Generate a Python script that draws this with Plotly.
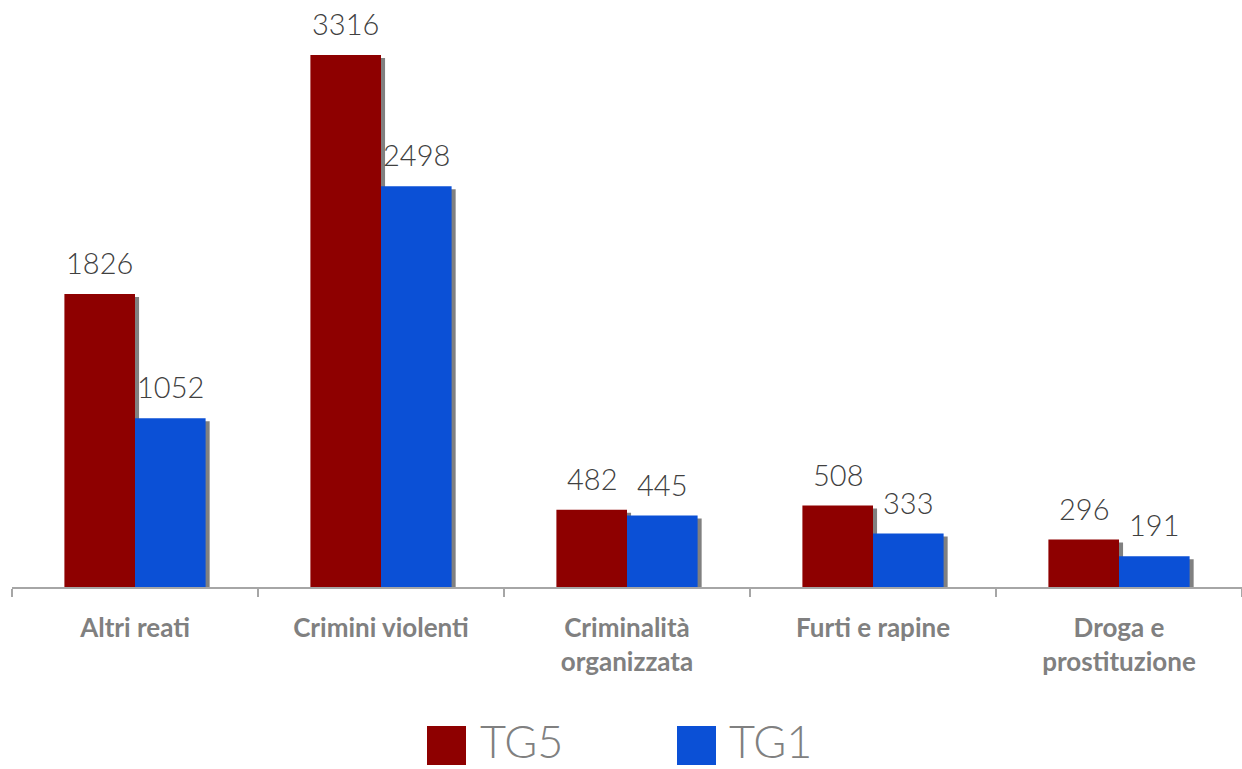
import plotly.graph_objects as go

categories = ["Altri reati", "Crimini violenti", "Criminalità<br>organizzata",
              "Furti e rapine", "Droga e<br>prostituzione"]
tg5 = [1826, 3316, 482, 508, 296]
tg1 = [1052, 2498, 445, 333, 191]
series_names = ["TG5", "TG1"]

RED = "#8E0000"
BLUE = "#0B50D6"
SHADOW = "#808080"
FONT = "Lato"

W = 0.287          # bar width in category units
DX = 0.0165        # shadow horizontal offset (category units)
DY = 18.7          # shadow vertical offset (data units)

xs = list(range(len(categories)))

fig = go.Figure()
# shadows
for vals, off in ((tg5, -W), (tg1, 0.0)):
    fig.add_trace(go.Bar(x=xs, y=vals, base=[-DY] * len(vals), offset=off + DX, width=W,
                         marker=dict(color=SHADOW, line=dict(width=0)),
                         showlegend=False, hoverinfo="skip"))
# main bars
fig.add_trace(go.Bar(x=xs, y=tg5, offset=-W, width=W, name=series_names[0],
                     marker=dict(color=RED, line=dict(width=0)), showlegend=False))
fig.add_trace(go.Bar(x=xs, y=tg1, offset=0.0, width=W, name=series_names[1],
                     marker=dict(color=BLUE, line=dict(width=0)), showlegend=False))

annotations = []
for i in xs:
    for vals, c in ((tg5, -W / 2), (tg1, W / 2)):
        annotations.append(dict(x=i + c, y=vals[i], xref="x", yref="y", text=str(vals[i]),
                                showarrow=False, yanchor="bottom", xanchor="center", yshift=12,
                                font=dict(family=FONT, size=29, color="#404040", weight=300)))

# legend (manual, large symbols)
shapes = []
leg = [(series_names[0], RED, 427, 466, 479), (series_names[1], BLUE, 677, 716, 728)]
def px2x(p):
    return (p - 12) / 1230
def py2y(p):
    return (587 - p) / 577
for name, col, sx0, sx1, tx in leg:
    shapes.append(dict(type="rect", xref="paper", yref="paper",
                       x0=px2x(sx0), x1=px2x(sx1), y0=py2y(765), y1=py2y(726),
                       fillcolor=col, line=dict(width=0)))
    annotations.append(dict(x=px2x(tx), y=py2y(768.5), xref="paper", yref="paper", text=name,
                            showarrow=False, xanchor="left", yanchor="bottom", borderpad=0,
                            font=dict(family=FONT, size=45, color="#808080", weight=300)))

fig.update_layout(
    width=1242, height=769,
    margin=dict(l=12, r=0, t=10, b=182),
    paper_bgcolor="white", plot_bgcolor="white",
    barmode="overlay",
    annotations=annotations, shapes=shapes,
    showlegend=False,
    xaxis=dict(tickmode="array", tickvals=xs, ticktext=categories,
               range=[-0.5, len(categories) - 0.5],
               showline=True, linecolor="#A6A6A6", linewidth=1.5,
               ticks="", ticklabelstandoff=17,
               showgrid=False, zeroline=False,
               tickfont=dict(family=FONT, size=26, color="#808080", weight="bold"),
               minor=dict(tickvals=[x - 0.5 for x in xs] + [len(xs) - 0.5],
                          ticks="outside", ticklen=8, tickcolor="#A6A6A6", tickwidth=1.5)),
    yaxis=dict(range=[0, 3596.6], visible=False, showgrid=False, zeroline=False),
)

fig.write_html("out.html", config={"displayModeBar": False},
               post_script="document.body.style.margin='0';document.body.style.overflow='hidden';")
